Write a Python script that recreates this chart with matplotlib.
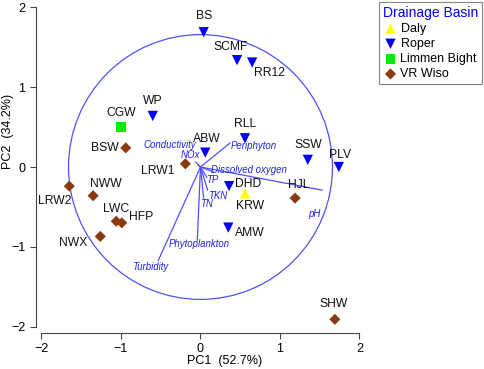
"""PCA biplot of sites coloured by drainage basin."""

import matplotlib
matplotlib.use("Agg")
import matplotlib.pyplot as plt
from matplotlib.patches import Circle

plt.rcParams["font.family"] = ["Liberation Sans", "DejaVu Sans"]

# site scores
sites = ["BS", "SCMF", "RR12", "WP", "CGW", "BSW", "ABW", "RLL", "SSW", "PLV",
         "LRW1", "LRW2", "NWW", "LWC", "HFP", "NWX", "DHD", "KRW", "HJL", "AMW", "SHW"]
pc1 = [0.04, 0.46, 0.65, -0.60, -1.00, -0.94, 0.06, 0.56, 1.35, 1.74,
       -0.19, -1.65, -1.35, -1.06, -0.99, -1.26, 0.36, 0.56, 1.19, 0.35, 1.69]
pc2 = [1.69, 1.34, 1.31, 0.64, 0.50, 0.24, 0.18, 0.36, 0.09, 0.00,
       0.04, -0.24, -0.36, -0.68, -0.70, -0.87, -0.24, -0.33, -0.39, -0.76, -1.91]
basin = ["Roper", "Roper", "Roper", "Roper", "Limmen Bight", "VR Wiso", "Roper", "Roper", "Roper", "Roper",
         "VR Wiso", "VR Wiso", "VR Wiso", "VR Wiso", "VR Wiso", "VR Wiso", "Roper", "Daly", "VR Wiso", "Roper",
         "VR Wiso"]

# variable loadings
variables = ["Conductivity", "NOx", "Periphyton", "Dissolved oxygen", "TP", "TKN", "TN",
             "Phytoplankton", "Turbidity", "pH"]
load1 = [-0.06, -0.03, 0.37, 0.16, 0.08, 0.09, 0.04, -0.04, -0.53, 1.53]
load2 = [0.06, 0.03, 0.30, -0.06, -0.13, -0.29, -0.39, -0.92, -1.17, -0.29]
circle_radius = 1.66

basins = ["Daly", "Roper", "Limmen Bight", "VR Wiso"]
styles = {
    "Daly": dict(marker="^", color="#ffff00", s=55),
    "Roper": dict(marker="v", color="#0000ff", s=55),
    "Limmen Bight": dict(marker="s", color="#00ee00", s=45),
    "VR Wiso": dict(marker="D", color="#8b3a0f", s=32),
}

# label offsets in pixels (dx, dy, ha)
site_off = {
    "BS": (0, 16, "center"), "SCMF": (-6, 13, "center"), "RR12": (2, -10, "left"),
    "WP": (0, 15, "center"), "CGW": (0, 14, "center"), "BSW": (-7, 0, "right"),
    "ABW": (2, 14, "center"), "RLL": (0, 14, "center"), "SSW": (0, 15, "center"),
    "PLV": (1, 12, "center"), "LRW1": (-11, -7, "right"), "LRW2": (-15, -15, "center"),
    "NWW": (13, 12, "center"), "LWC": (0, 12, "center"), "HFP": (7, 6, "left"),
    "NWX": (-27, -7, "center"), "DHD": (6, 2, "left"), "KRW": (5, -13, "center"),
    "HJL": (4, 13, "center"), "AMW": (7, -5, "left"), "SHW": (-1, 15, "center"),
}
var_pos = {  # label position in pixel coordinates of the figure
    "Conductivity": (196, 145, "right"), "NOx": (200, 155, "right"),
    "Periphyton": (231, 146, "left"), "Dissolved oxygen": (211, 170, "left"),
    "TP": (206, 180, "left"), "TKN": (208, 196, "left"), "TN": (200, 204, "left"),
    "Phytoplankton": (169, 244, "left"), "Turbidity": (132, 267, "left"),
    "pH": (308, 214, "left"),
}

W, H = 484, 369
fig = plt.figure(figsize=(W / 100, H / 100), dpi=100)
ax = fig.add_axes([35.9 / W, (H - 332.9) / H, 339.5 / W, 329.4 / H])
ax.set_xlim(-2.07, 2.2)
ax.set_ylim(-2.08, 2.05)

vec_col = "#5050ff"
ax.add_patch(Circle((0, 0), circle_radius, fill=False, ec=vec_col, lw=0.9))
for name, vx, vy in zip(variables, load1, load2):
    ax.plot([0, vx], [0, vy], color=vec_col, lw=0.9)

for b in basins:
    idx = [i for i, s in enumerate(basin) if s == b]
    st = styles[b]
    ax.scatter([pc1[i] for i in idx], [pc2[i] for i in idx], marker=st["marker"],
               color=st["color"], s=st["s"], edgecolors="none", label=b, zorder=3)

for name, x, y in zip(sites, pc1, pc2):
    dx, dy, ha = site_off[name]
    ax.annotate(name, (x, y), xytext=(dx * 0.72, dy * 0.72), textcoords="offset points",
                ha=ha, va="center", fontsize=8.7, color="#111111")

for name in variables:
    px, py, ha = var_pos[name]
    fig.text(px / W, 1 - py / H, name, ha=ha, va="center", fontsize=6.9,
             style="italic", color="#2020ee")

for side in ("top", "right"):
    ax.spines[side].set_visible(False)
ax.spines["left"].set_bounds(-2, 2)
ax.spines["bottom"].set_bounds(-2, 2)
for side in ("left", "bottom"):
    ax.spines[side].set_color("#444444")
ax.set_xticks([-2, -1, 0, 1, 2])
ax.set_yticks([-2, -1, 0, 1, 2])
ax.tick_params(direction="out", length=4, width=0.8, labelsize=9, color="#444444")

fig.text(225 / W, 1 - 361 / H, "PC1  (52.7%)", ha="center", va="center", fontsize=9)
fig.text(8 / W, 1 - 131 / H, "PC2  (34.2%)", ha="center", va="center", fontsize=9,
         rotation=90)

leg = ax.legend(loc="upper right", bbox_to_anchor=(482 / W, 1 - 2 / H),
                bbox_transform=fig.transFigure, title="Drainage Basin",
                fontsize=9, title_fontsize=10, frameon=True, fancybox=False,
                handletextpad=0.2, handlelength=1.2, borderpad=0.3,
                labelspacing=0.25, borderaxespad=0)
leg.get_title().set_color("#0000ff")
leg.get_frame().set_edgecolor("#666666")
leg.get_frame().set_linewidth(0.8)
leg._legend_box.align = "left"

fig.savefig("out.png", dpi=100)
